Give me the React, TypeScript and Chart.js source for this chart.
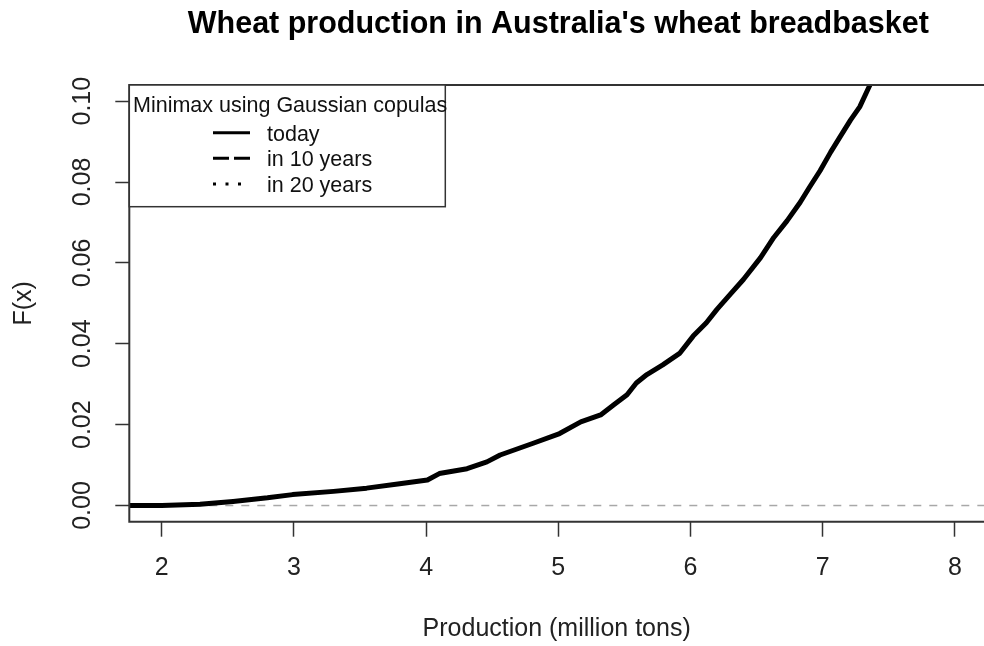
import React, { useEffect, useRef } from "react";
import { Chart, registerables } from "chart.js";

Chart.register(...registerables);

// ---- text ----
const TITLE = "Wheat production in Australia's wheat breadbasket";
const X_TITLE = "Production (million tons)";
const Y_TITLE = "F(x)";
const LEGEND_TITLE = "Minimax using Gaussian copulas";
const LEGEND_LABELS = ["today", "in 10 years", "in 20 years"];

// ---- axes ----
const X_TICKS = [2, 3, 4, 5, 6, 7, 8];
const Y_TICKS = [0, 0.02, 0.04, 0.06, 0.08, 0.1];
const X_MIN = 1.755;
const X_MAX = 8.22;
const Y_MIN = -0.004;
const Y_MAX = 0.104;
const REFERENCE_LEVEL = 0;

// ---- series: "today" ----
const productionX = [
  1.76, 2.0, 2.29, 2.54, 2.8, 2.99, 3.3, 3.55, 3.8, 4.01, 4.1, 4.31, 4.46,
  4.56, 4.81, 5.01, 5.17, 5.32, 5.42, 5.52, 5.59, 5.67, 5.79, 5.92, 6.02,
  6.12, 6.2, 6.3, 6.4, 6.53, 6.63, 6.73, 6.83, 6.9, 6.98, 7.06, 7.13, 7.21,
  7.28, 7.35, 7.4,
];
const todayF = [
  0.0, 0.0, 0.0003, 0.001, 0.0019, 0.0027, 0.0035, 0.0043, 0.0054, 0.0063,
  0.0079, 0.0091, 0.0108, 0.0125, 0.0154, 0.0178, 0.0207, 0.0224, 0.0249,
  0.0274, 0.0303, 0.0324, 0.0348, 0.0377, 0.0419, 0.0452, 0.0485, 0.0522,
  0.0559, 0.0613, 0.0663, 0.0704, 0.075, 0.0787, 0.0828, 0.0874, 0.0911,
  0.0953, 0.0986, 0.1035, 0.107,
];

const FONT = '"Liberation Sans", Arial, Helvetica, sans-serif';

const decorPlugin = {
  id: "decor",
  beforeDraw(chart: any) {
    const { ctx } = chart;
    ctx.save();
    ctx.fillStyle = "#ffffff";
    ctx.fillRect(0, 0, chart.width, chart.height);
    ctx.restore();
  },
  afterDraw(chart: any) {
    const { ctx, chartArea: a } = chart;
    ctx.save();
    // plot frame
    ctx.strokeStyle = "#333";
    ctx.lineWidth = 2;
    ctx.setLineDash([]);
    ctx.beginPath();
    ctx.moveTo(chart.width + 2, a.top);
    ctx.lineTo(a.left, a.top);
    ctx.lineTo(a.left, a.bottom);
    ctx.lineTo(chart.width + 2, a.bottom);
    ctx.stroke();

    // main title
    ctx.fillStyle = "#000";
    ctx.font = `bold 30.5px ${FONT}`;
    ctx.textAlign = "center";
    ctx.textBaseline = "middle";
    ctx.fillText(TITLE, a.left + 429, 24.4);

    // legend
    const lx = a.left;
    const ly = a.top;
    const lw = 316;
    const lh = 121.7;
    ctx.fillStyle = "#fff";
    ctx.fillRect(lx, ly, lw, lh);
    ctx.strokeStyle = "#333";
    ctx.lineWidth = 1.5;
    ctx.strokeRect(lx, ly, lw, lh);

    ctx.fillStyle = "#111";
    ctx.font = `21.5px ${FONT}`;
    ctx.textAlign = "left";
    ctx.textBaseline = "middle";
    ctx.fillText(LEGEND_TITLE, lx + 3.7, ly + 21);

    const dashes = [[], [16, 5], [3, 9.5]];
    LEGEND_LABELS.forEach((label, i) => {
      const y = ly + 47.7 + i * 25.65;
      ctx.strokeStyle = "#000";
      ctx.lineWidth = 3;
      ctx.lineCap = "butt";
      ctx.setLineDash(dashes[i]);
      ctx.beginPath();
      ctx.moveTo(lx + 83.7, y);
      ctx.lineTo(lx + 120.7, y);
      ctx.stroke();
      ctx.setLineDash([]);
      ctx.fillStyle = "#111";
      ctx.fillText(label, lx + 137.7, y + 2);
    });
    ctx.restore();
  },
};

export default function App() {
  const canvasRef = useRef<HTMLCanvasElement | null>(null);

  useEffect(() => {
    if (!canvasRef.current) return;
    const chart = new Chart(canvasRef.current, {
      type: "line",
      data: {
        datasets: [
          {
            label: LEGEND_LABELS[0],
            data: productionX.map((x, i) => ({ x, y: todayF[i] })),
            borderColor: "#000",
            borderWidth: 5,
            pointRadius: 0,
            tension: 0,
            borderJoinStyle: "round",
            borderCapStyle: "round",
            clip: 0,
            order: 1,
          },
          {
            label: "reference",
            data: [
              { x: X_MIN, y: REFERENCE_LEVEL },
              { x: X_MAX, y: REFERENCE_LEVEL },
            ],
            borderColor: "#a8a8a8",
            borderWidth: 1.5,
            borderDash: [8, 8],
            pointRadius: 0,
            order: 2,
          },
        ],
      },
      options: {
        animation: false,
        responsive: false,
        devicePixelRatio: 1,
        layout: { padding: { top: 85, left: 0, right: 0, bottom: 0 } },
        plugins: {
          legend: { display: false },
          tooltip: { enabled: false },
          title: { display: false },
        },
        scales: {
          x: {
            type: "linear",
            min: X_MIN,
            max: X_MAX,
            afterBuildTicks: (s: any) => {
              s.ticks = X_TICKS.map((v) => ({ value: v }));
            },
            afterFit: (s: any) => {
              s.height = 124.3;
            },
            border: { display: false },
            grid: {
              drawOnChartArea: false,
              drawTicks: true,
              tickLength: 15,
              tickColor: "#333",
              tickWidth: 1.5,
            },
            ticks: {
              padding: 16.6,
              color: "#222",
              font: { family: FONT, size: 25 },
              maxRotation: 0,
              autoSkip: false,
              callback: (v: any) => String(v),
            },
            title: {
              display: true,
              text: X_TITLE,
              color: "#222",
              font: { family: FONT, size: 25 },
              padding: { top: 0, bottom: 1.7 },
            },
          },
          y: {
            type: "linear",
            min: Y_MIN,
            max: Y_MAX,
            afterBuildTicks: (s: any) => {
              s.ticks = Y_TICKS.map((v) => ({ value: v }));
            },
            afterFit: (s: any) => {
              s.width = 129.3;
            },
            border: { display: false },
            grid: {
              drawOnChartArea: false,
              drawTicks: true,
              tickLength: 14,
              tickColor: "#333",
              tickWidth: 1.5,
            },
            ticks: {
              padding: 8,
              minRotation: 90,
              maxRotation: 90,
              crossAlign: "center",
              color: "#222",
              font: { family: FONT, size: 25 },
              autoSkip: false,
              callback: (v: any) => Number(v).toFixed(2),
            },
            title: {
              display: true,
              text: Y_TITLE,
              color: "#222",
              font: { family: FONT, size: 25 },
              padding: { top: 9, bottom: 0 },
            },
          },
        },
      },
      plugins: [decorPlugin],
    } as any);
    return () => chart.destroy();
  }, []);

  return (
    <div style={{ position: "absolute", left: 0, top: 0, width: 984, height: 646 }}>
      <canvas ref={canvasRef} width={984} height={646} style={{ display: "block" }} />
    </div>
  );
}
